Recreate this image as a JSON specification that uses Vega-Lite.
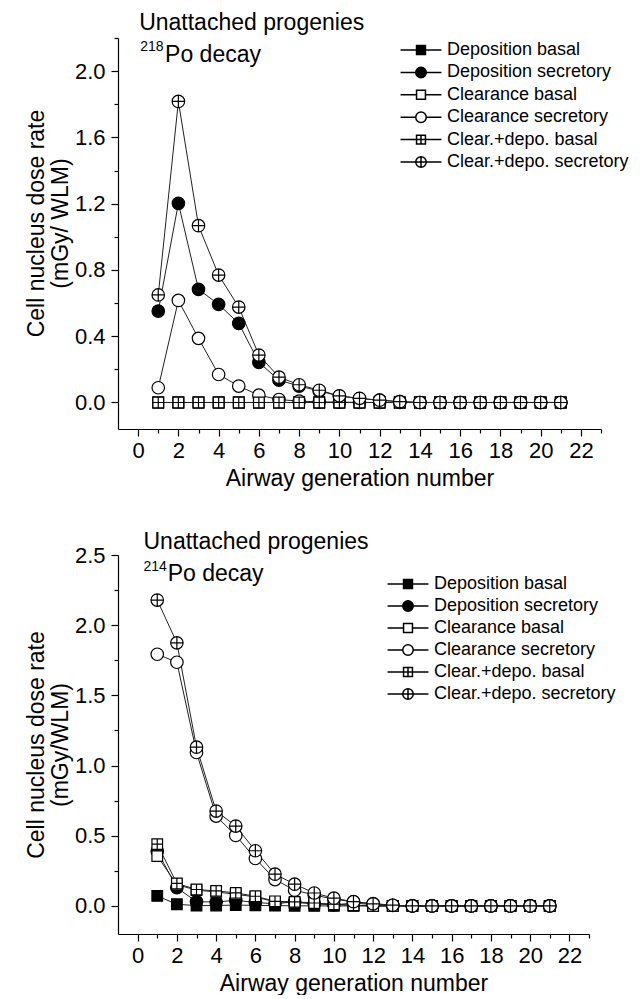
{
"$schema":"https://vega.github.io/schema/vega-lite/v6.json",
"padding":{"left":25,"top":12,"right":0,"bottom":0},
"background":"white",
"spacing":40,
"config":{"view":{"stroke":null},"font":"Liberation Sans",
"axis":{"domainColor":"black","domainWidth":1.2,"tickColor":"black","tickWidth":1.2,"labelColor":"black","titleColor":"black","labelFont":"Liberation Sans","titleFont":"Liberation Sans","labelFontSize":22,"titleFontSize":23,"titleFontWeight":"normal","grid":false,"tickSize":7}},
"datasets":{
"a":[
{"gen":1,"series":"Deposition basal","rate":0},{"gen":2,"series":"Deposition basal","rate":0},{"gen":3,"series":"Deposition basal","rate":0},{"gen":4,"series":"Deposition basal","rate":0},{"gen":5,"series":"Deposition basal","rate":0},{"gen":6,"series":"Deposition basal","rate":0},{"gen":7,"series":"Deposition basal","rate":0},{"gen":8,"series":"Deposition basal","rate":0},{"gen":9,"series":"Deposition basal","rate":0},{"gen":10,"series":"Deposition basal","rate":0},{"gen":11,"series":"Deposition basal","rate":0},{"gen":12,"series":"Deposition basal","rate":0},{"gen":13,"series":"Deposition basal","rate":0},{"gen":14,"series":"Deposition basal","rate":0},{"gen":15,"series":"Deposition basal","rate":0},{"gen":16,"series":"Deposition basal","rate":0},{"gen":17,"series":"Deposition basal","rate":0},{"gen":18,"series":"Deposition basal","rate":0},{"gen":19,"series":"Deposition basal","rate":0},{"gen":20,"series":"Deposition basal","rate":0},{"gen":21,"series":"Deposition basal","rate":0},
{"gen":1,"series":"Deposition secretory","rate":0.552},{"gen":2,"series":"Deposition secretory","rate":1.202},{"gen":3,"series":"Deposition secretory","rate":0.683},{"gen":4,"series":"Deposition secretory","rate":0.592},{"gen":5,"series":"Deposition secretory","rate":0.477},{"gen":6,"series":"Deposition secretory","rate":0.242},{"gen":7,"series":"Deposition secretory","rate":0.135},{"gen":8,"series":"Deposition secretory","rate":0.099},{"gen":9,"series":"Deposition secretory","rate":0.07},{"gen":10,"series":"Deposition secretory","rate":0.038},{"gen":11,"series":"Deposition secretory","rate":0.024},{"gen":12,"series":"Deposition secretory","rate":0.014},{"gen":13,"series":"Deposition secretory","rate":0.005},{"gen":14,"series":"Deposition secretory","rate":0},{"gen":15,"series":"Deposition secretory","rate":0},{"gen":16,"series":"Deposition secretory","rate":0},{"gen":17,"series":"Deposition secretory","rate":0},{"gen":18,"series":"Deposition secretory","rate":0},{"gen":19,"series":"Deposition secretory","rate":0},{"gen":20,"series":"Deposition secretory","rate":0},{"gen":21,"series":"Deposition secretory","rate":0},
{"gen":1,"series":"Clearance basal","rate":0},{"gen":2,"series":"Clearance basal","rate":0},{"gen":3,"series":"Clearance basal","rate":0},{"gen":4,"series":"Clearance basal","rate":0},{"gen":5,"series":"Clearance basal","rate":0},{"gen":6,"series":"Clearance basal","rate":0},{"gen":7,"series":"Clearance basal","rate":0},{"gen":8,"series":"Clearance basal","rate":0},{"gen":9,"series":"Clearance basal","rate":0},{"gen":10,"series":"Clearance basal","rate":0},{"gen":11,"series":"Clearance basal","rate":0},{"gen":12,"series":"Clearance basal","rate":0},{"gen":13,"series":"Clearance basal","rate":0},{"gen":14,"series":"Clearance basal","rate":0},{"gen":15,"series":"Clearance basal","rate":0},{"gen":16,"series":"Clearance basal","rate":0},{"gen":17,"series":"Clearance basal","rate":0},{"gen":18,"series":"Clearance basal","rate":0},{"gen":19,"series":"Clearance basal","rate":0},{"gen":20,"series":"Clearance basal","rate":0},{"gen":21,"series":"Clearance basal","rate":0},
{"gen":1,"series":"Clearance secretory","rate":0.089},{"gen":2,"series":"Clearance secretory","rate":0.616},{"gen":3,"series":"Clearance secretory","rate":0.387},{"gen":4,"series":"Clearance secretory","rate":0.169},{"gen":5,"series":"Clearance secretory","rate":0.099},{"gen":6,"series":"Clearance secretory","rate":0.044},{"gen":7,"series":"Clearance secretory","rate":0.018},{"gen":8,"series":"Clearance secretory","rate":0.008},{"gen":9,"series":"Clearance secretory","rate":0.004},{"gen":10,"series":"Clearance secretory","rate":0.002},{"gen":11,"series":"Clearance secretory","rate":0},{"gen":12,"series":"Clearance secretory","rate":0},{"gen":13,"series":"Clearance secretory","rate":0},{"gen":14,"series":"Clearance secretory","rate":0},{"gen":15,"series":"Clearance secretory","rate":0},{"gen":16,"series":"Clearance secretory","rate":0},{"gen":17,"series":"Clearance secretory","rate":0},{"gen":18,"series":"Clearance secretory","rate":0},{"gen":19,"series":"Clearance secretory","rate":0},{"gen":20,"series":"Clearance secretory","rate":0},{"gen":21,"series":"Clearance secretory","rate":0},
{"gen":1,"series":"Clear.+depo. basal","rate":0},{"gen":2,"series":"Clear.+depo. basal","rate":0},{"gen":3,"series":"Clear.+depo. basal","rate":0},{"gen":4,"series":"Clear.+depo. basal","rate":0},{"gen":5,"series":"Clear.+depo. basal","rate":0},{"gen":6,"series":"Clear.+depo. basal","rate":0},{"gen":7,"series":"Clear.+depo. basal","rate":0},{"gen":8,"series":"Clear.+depo. basal","rate":0},{"gen":9,"series":"Clear.+depo. basal","rate":0},{"gen":10,"series":"Clear.+depo. basal","rate":0},{"gen":11,"series":"Clear.+depo. basal","rate":0},{"gen":12,"series":"Clear.+depo. basal","rate":0},{"gen":13,"series":"Clear.+depo. basal","rate":0},{"gen":14,"series":"Clear.+depo. basal","rate":0},{"gen":15,"series":"Clear.+depo. basal","rate":0},{"gen":16,"series":"Clear.+depo. basal","rate":0},{"gen":17,"series":"Clear.+depo. basal","rate":0},{"gen":18,"series":"Clear.+depo. basal","rate":0},{"gen":19,"series":"Clear.+depo. basal","rate":0},{"gen":20,"series":"Clear.+depo. basal","rate":0},{"gen":21,"series":"Clear.+depo. basal","rate":0},
{"gen":1,"series":"Clear.+depo. secretory","rate":0.649},{"gen":2,"series":"Clear.+depo. secretory","rate":1.817},{"gen":3,"series":"Clear.+depo. secretory","rate":1.067},{"gen":4,"series":"Clear.+depo. secretory","rate":0.769},{"gen":5,"series":"Clear.+depo. secretory","rate":0.576},{"gen":6,"series":"Clear.+depo. secretory","rate":0.286},{"gen":7,"series":"Clear.+depo. secretory","rate":0.153},{"gen":8,"series":"Clear.+depo. secretory","rate":0.107},{"gen":9,"series":"Clear.+depo. secretory","rate":0.074},{"gen":10,"series":"Clear.+depo. secretory","rate":0.04},{"gen":11,"series":"Clear.+depo. secretory","rate":0.025},{"gen":12,"series":"Clear.+depo. secretory","rate":0.014},{"gen":13,"series":"Clear.+depo. secretory","rate":0.005},{"gen":14,"series":"Clear.+depo. secretory","rate":0},{"gen":15,"series":"Clear.+depo. secretory","rate":0},{"gen":16,"series":"Clear.+depo. secretory","rate":0},{"gen":17,"series":"Clear.+depo. secretory","rate":0},{"gen":18,"series":"Clear.+depo. secretory","rate":0},{"gen":19,"series":"Clear.+depo. secretory","rate":0},{"gen":20,"series":"Clear.+depo. secretory","rate":0},{"gen":21,"series":"Clear.+depo. secretory","rate":0}
],
"b":[
{"gen":1,"series":"Deposition basal","rate":0.071},{"gen":2,"series":"Deposition basal","rate":0.012},{"gen":3,"series":"Deposition basal","rate":0.002},{"gen":4,"series":"Deposition basal","rate":0.003},{"gen":5,"series":"Deposition basal","rate":0.006},{"gen":6,"series":"Deposition basal","rate":0.004},{"gen":7,"series":"Deposition basal","rate":0.002},{"gen":8,"series":"Deposition basal","rate":0.001},{"gen":9,"series":"Deposition basal","rate":0},{"gen":10,"series":"Deposition basal","rate":0},{"gen":11,"series":"Deposition basal","rate":0},{"gen":12,"series":"Deposition basal","rate":0},{"gen":13,"series":"Deposition basal","rate":0},{"gen":14,"series":"Deposition basal","rate":0},{"gen":15,"series":"Deposition basal","rate":0},{"gen":16,"series":"Deposition basal","rate":0},{"gen":17,"series":"Deposition basal","rate":0},{"gen":18,"series":"Deposition basal","rate":0},{"gen":19,"series":"Deposition basal","rate":0},{"gen":20,"series":"Deposition basal","rate":0},{"gen":21,"series":"Deposition basal","rate":0},
{"gen":1,"series":"Deposition secretory","rate":0.39},{"gen":2,"series":"Deposition secretory","rate":0.13},{"gen":3,"series":"Deposition secretory","rate":0.03},{"gen":4,"series":"Deposition secretory","rate":0.028},{"gen":5,"series":"Deposition secretory","rate":0.04},{"gen":6,"series":"Deposition secretory","rate":0.025},{"gen":7,"series":"Deposition secretory","rate":0.015},{"gen":8,"series":"Deposition secretory","rate":0.03},{"gen":9,"series":"Deposition secretory","rate":0.015},{"gen":10,"series":"Deposition secretory","rate":0.008},{"gen":11,"series":"Deposition secretory","rate":0.02},{"gen":12,"series":"Deposition secretory","rate":0.01},{"gen":13,"series":"Deposition secretory","rate":0.003},{"gen":14,"series":"Deposition secretory","rate":0},{"gen":15,"series":"Deposition secretory","rate":0},{"gen":16,"series":"Deposition secretory","rate":0},{"gen":17,"series":"Deposition secretory","rate":0},{"gen":18,"series":"Deposition secretory","rate":0},{"gen":19,"series":"Deposition secretory","rate":0},{"gen":20,"series":"Deposition secretory","rate":0},{"gen":21,"series":"Deposition secretory","rate":0},
{"gen":1,"series":"Clearance basal","rate":0.355},{"gen":2,"series":"Clearance basal","rate":0.152},{"gen":3,"series":"Clearance basal","rate":0.112},{"gen":4,"series":"Clearance basal","rate":0.1},{"gen":5,"series":"Clearance basal","rate":0.083},{"gen":6,"series":"Clearance basal","rate":0.064},{"gen":7,"series":"Clearance basal","rate":0.029},{"gen":8,"series":"Clearance basal","rate":0.024},{"gen":9,"series":"Clearance basal","rate":0.017},{"gen":10,"series":"Clearance basal","rate":0.01},{"gen":11,"series":"Clearance basal","rate":0.004},{"gen":12,"series":"Clearance basal","rate":0},{"gen":13,"series":"Clearance basal","rate":0},{"gen":14,"series":"Clearance basal","rate":0},{"gen":15,"series":"Clearance basal","rate":0},{"gen":16,"series":"Clearance basal","rate":0},{"gen":17,"series":"Clearance basal","rate":0},{"gen":18,"series":"Clearance basal","rate":0},{"gen":19,"series":"Clearance basal","rate":0},{"gen":20,"series":"Clearance basal","rate":0},{"gen":21,"series":"Clearance basal","rate":0},
{"gen":1,"series":"Clearance secretory","rate":1.793},{"gen":2,"series":"Clearance secretory","rate":1.736},{"gen":3,"series":"Clearance secretory","rate":1.093},{"gen":4,"series":"Clearance secretory","rate":0.64},{"gen":5,"series":"Clearance secretory","rate":0.502},{"gen":6,"series":"Clearance secretory","rate":0.338},{"gen":7,"series":"Clearance secretory","rate":0.188},{"gen":8,"series":"Clearance secretory","rate":0.112},{"gen":9,"series":"Clearance secretory","rate":0.078},{"gen":10,"series":"Clearance secretory","rate":0.048},{"gen":11,"series":"Clearance secretory","rate":0.029},{"gen":12,"series":"Clearance secretory","rate":0.017},{"gen":13,"series":"Clearance secretory","rate":0.005},{"gen":14,"series":"Clearance secretory","rate":0},{"gen":15,"series":"Clearance secretory","rate":0},{"gen":16,"series":"Clearance secretory","rate":0},{"gen":17,"series":"Clearance secretory","rate":0},{"gen":18,"series":"Clearance secretory","rate":0},{"gen":19,"series":"Clearance secretory","rate":0},{"gen":20,"series":"Clearance secretory","rate":0},{"gen":21,"series":"Clearance secretory","rate":0},
{"gen":1,"series":"Clear.+depo. basal","rate":0.44},{"gen":2,"series":"Clear.+depo. basal","rate":0.16},{"gen":3,"series":"Clear.+depo. basal","rate":0.117},{"gen":4,"series":"Clear.+depo. basal","rate":0.107},{"gen":5,"series":"Clear.+depo. basal","rate":0.093},{"gen":6,"series":"Clear.+depo. basal","rate":0.069},{"gen":7,"series":"Clear.+depo. basal","rate":0.033},{"gen":8,"series":"Clear.+depo. basal","rate":0.029},{"gen":9,"series":"Clear.+depo. basal","rate":0.021},{"gen":10,"series":"Clear.+depo. basal","rate":0.012},{"gen":11,"series":"Clear.+depo. basal","rate":0.005},{"gen":12,"series":"Clear.+depo. basal","rate":0},{"gen":13,"series":"Clear.+depo. basal","rate":0},{"gen":14,"series":"Clear.+depo. basal","rate":0},{"gen":15,"series":"Clear.+depo. basal","rate":0},{"gen":16,"series":"Clear.+depo. basal","rate":0},{"gen":17,"series":"Clear.+depo. basal","rate":0},{"gen":18,"series":"Clear.+depo. basal","rate":0},{"gen":19,"series":"Clear.+depo. basal","rate":0},{"gen":20,"series":"Clear.+depo. basal","rate":0},{"gen":21,"series":"Clear.+depo. basal","rate":0},
{"gen":1,"series":"Clear.+depo. secretory","rate":2.179},{"gen":2,"series":"Clear.+depo. secretory","rate":1.874},{"gen":3,"series":"Clear.+depo. secretory","rate":1.131},{"gen":4,"series":"Clear.+depo. secretory","rate":0.676},{"gen":5,"series":"Clear.+depo. secretory","rate":0.569},{"gen":6,"series":"Clear.+depo. secretory","rate":0.393},{"gen":7,"series":"Clear.+depo. secretory","rate":0.226},{"gen":8,"series":"Clear.+depo. secretory","rate":0.155},{"gen":9,"series":"Clear.+depo. secretory","rate":0.092},{"gen":10,"series":"Clear.+depo. secretory","rate":0.055},{"gen":11,"series":"Clear.+depo. secretory","rate":0.03},{"gen":12,"series":"Clear.+depo. secretory","rate":0.015},{"gen":13,"series":"Clear.+depo. secretory","rate":0.005},{"gen":14,"series":"Clear.+depo. secretory","rate":0},{"gen":15,"series":"Clear.+depo. secretory","rate":0},{"gen":16,"series":"Clear.+depo. secretory","rate":0},{"gen":17,"series":"Clear.+depo. secretory","rate":0},{"gen":18,"series":"Clear.+depo. secretory","rate":0},{"gen":19,"series":"Clear.+depo. secretory","rate":0},{"gen":20,"series":"Clear.+depo. secretory","rate":0},{"gen":21,"series":"Clear.+depo. secretory","rate":0}
]},
"vconcat":[
{"width":483,"height":391,"data":{"name":"a"},
"layer":[
{"mark":{"type":"line","color":"#222","strokeWidth":1},
"encoding":{"x":{"field":"gen","type":"quantitative","scale":{"domain":[-1,23],"nice":false,"zero":false},"axis":{"values":[0,2,4,6,8,10,12,14,16,18,20,22],"title":"Airway generation number","labelPadding":4,"titlePadding":6,"labelFlush":false}},
"y":{"field":"rate","type":"quantitative","scale":{"domain":[-0.16,2.2],"nice":false,"zero":false},"axis":{"values":[0,0.4,0.8,1.2,1.6,2.0],"format":".1f","title":["Cell nucleus dose rate","(mGy/ WLM)"],"titleLineHeight":24,"titlePadding":2,"titleY":185,"labelPadding":6,"labelFlush":false}},
"detail":{"field":"series"}}},
{"mark":{"type":"point","filled":true,"stroke":"black","strokeWidth":1.2,"size":156,"opacity":1},
"encoding":{"x":{"field":"gen","type":"quantitative","axis":null},"y":{"field":"rate","type":"quantitative","axis":null},
"shape":{"field":"series","type":"nominal","sort":null,"scale":{"domain":["Deposition basal","Deposition secretory","Clearance basal","Clearance secretory","Clear.+depo. basal","Clear.+depo. secretory"],"range":["M-0.85,-0.85L0.85,-0.85L0.85,0.85L-0.85,0.85Z","circle","M-0.85,-0.85L0.85,-0.85L0.85,0.85L-0.85,0.85Z","circle","M-0.85,-0.85L0.85,-0.85L0.85,0.85L-0.85,0.85ZM-0.85,0L0.85,0M0,-0.85L0,0.85","M-1,0A1,1,0,1,1,1,0A1,1,0,1,1,-1,0ZM-1,0L1,0M0,-1L0,1"]},"legend":null},
"fill":{"field":"series","type":"nominal","sort":null,"scale":{"domain":["Deposition basal","Deposition secretory","Clearance basal","Clearance secretory","Clear.+depo. basal","Clear.+depo. secretory"],"range":["black","black","white","white","white","white"]},"legend":null}}},
{"transform":[{"filter":"false"}],
"mark":{"type":"point","filled":true,"stroke":"black","strokeWidth":1.2,"opacity":1},
"encoding":{"x":{"field":"gen","type":"quantitative","axis":{"values":[1,3,5,7,9,11,13,15,17,19,21,23],"labels":false,"domain":false,"tickSize":4,"title":null,"orient":"bottom"}},
"y":{"field":"rate","type":"quantitative","axis":{"values":[0.2,0.6,1.0,1.4,1.8,2.2],"labels":false,"domain":false,"tickSize":4,"title":null,"orient":"left"}},
"shape":{"field":"series","type":"nominal","sort":null,"scale":{"domain":["Deposition basal","Deposition secretory","Clearance basal","Clearance secretory","Clear.+depo. basal","Clear.+depo. secretory"],"range":["M-3.9,0L-0.85,0M0.85,0L3.9,0M-0.85,-0.85L0.85,-0.85L0.85,0.85L-0.85,0.85Z","M-3.9,0L-1,0M1,0L3.9,0M-1,0A1,1,0,1,1,1,0A1,1,0,1,1,-1,0Z","M-3.9,0L-0.85,0M0.85,0L3.9,0M-0.85,-0.85L0.85,-0.85L0.85,0.85L-0.85,0.85Z","M-3.9,0L-1,0M1,0L3.9,0M-1,0A1,1,0,1,1,1,0A1,1,0,1,1,-1,0Z","M-3.9,0L-0.85,0M0.85,0L3.9,0M-0.85,-0.85L0.85,-0.85L0.85,0.85L-0.85,0.85ZM-0.85,0L0.85,0M0,-0.85L0,0.85","M-3.9,0L-1,0M1,0L3.9,0M-1,0A1,1,0,1,1,1,0A1,1,0,1,1,-1,0ZM-1,0L1,0M0,-1L0,1"]},
"legend":{"orient":"none","legendX":294,"legendY":3,"title":null,"labelFontSize":18,"labelFont":"Liberation Sans","labelColor":"black","labelLimit":400,"symbolSize":110,"labelOffset":17,"rowPadding":4.4,"padding":0,"encode":{"symbols":{"update":{"stroke":{"value":"black"},"strokeWidth":{"value":1.2},"opacity":{"value":1}}}}}},
"fill":{"field":"series","type":"nominal","sort":null,"scale":{"domain":["Deposition basal","Deposition secretory","Clearance basal","Clearance secretory","Clear.+depo. basal","Clear.+depo. secretory"],"range":["black","black","white","white","white","white"]},
"legend":{"orient":"none","legendX":294,"legendY":3,"title":null,"labelFontSize":18,"labelFont":"Liberation Sans","labelColor":"black","labelLimit":400,"symbolSize":110,"labelOffset":17,"rowPadding":4.4,"padding":0,"encode":{"symbols":{"update":{"stroke":{"value":"black"},"strokeWidth":{"value":1.2},"opacity":{"value":1}}}}}}}},
{"data":{"values":[{"t":"Unattached progenies"}]},"mark":{"type":"text","align":"left","baseline":"alphabetic","fontSize":23,"font":"Liberation Sans","color":"black"},
"encoding":{"x":{"datum":0.05,"type":"quantitative","axis":null},"y":{"datum":2.248,"type":"quantitative","axis":null},"text":{"field":"t"}}},
{"data":{"values":[{"t":"218"}]},"mark":{"type":"text","align":"left","baseline":"alphabetic","fontSize":14,"font":"Liberation Sans","color":"black"},
"encoding":{"x":{"datum":0.1,"type":"quantitative","axis":null},"y":{"datum":2.121,"type":"quantitative","axis":null},"text":{"field":"t"}}},
{"data":{"values":[{"t":"Po decay"}]},"mark":{"type":"text","align":"left","baseline":"alphabetic","fontSize":23,"font":"Liberation Sans","color":"black"},
"encoding":{"x":{"datum":1.34,"type":"quantitative","axis":null},"y":{"datum":2.054,"type":"quantitative","axis":null},"text":{"field":"t"}}}
],
"resolve":{"scale":{"shape":"independent","fill":"independent"},"axis":{"x":"independent","y":"independent"}}},
{"width":471,"height":379,"data":{"name":"b"},
"layer":[
{"mark":{"type":"line","color":"#222","strokeWidth":1},
"encoding":{"x":{"field":"gen","type":"quantitative","scale":{"domain":[-1,23],"nice":false,"zero":false},"axis":{"values":[0,2,4,6,8,10,12,14,16,18,20,22],"title":"Airway generation number","labelPadding":4,"titlePadding":6,"labelFlush":false}},
"y":{"field":"rate","type":"quantitative","scale":{"domain":[-0.2,2.5],"nice":false,"zero":false},"axis":{"values":[0,0.5,1.0,1.5,2.0,2.5],"format":".1f","title":["Cell nucleus dose rate","(mGy/WLM)"],"titleLineHeight":24,"titlePadding":2,"labelPadding":6,"labelFlush":false}},
"detail":{"field":"series"}}},
{"mark":{"type":"point","filled":true,"stroke":"black","strokeWidth":1.2,"size":156,"opacity":1},
"encoding":{"x":{"field":"gen","type":"quantitative","axis":null},"y":{"field":"rate","type":"quantitative","axis":null},
"shape":{"field":"series","type":"nominal","sort":null,"scale":{"domain":["Deposition basal","Deposition secretory","Clearance basal","Clearance secretory","Clear.+depo. basal","Clear.+depo. secretory"],"range":["M-0.85,-0.85L0.85,-0.85L0.85,0.85L-0.85,0.85Z","circle","M-0.85,-0.85L0.85,-0.85L0.85,0.85L-0.85,0.85Z","circle","M-0.85,-0.85L0.85,-0.85L0.85,0.85L-0.85,0.85ZM-0.85,0L0.85,0M0,-0.85L0,0.85","M-1,0A1,1,0,1,1,1,0A1,1,0,1,1,-1,0ZM-1,0L1,0M0,-1L0,1"]},"legend":null},
"fill":{"field":"series","type":"nominal","sort":null,"scale":{"domain":["Deposition basal","Deposition secretory","Clearance basal","Clearance secretory","Clear.+depo. basal","Clear.+depo. secretory"],"range":["black","black","white","white","white","white"]},"legend":null}}},
{"transform":[{"filter":"false"}],
"mark":{"type":"point","filled":true,"stroke":"black","strokeWidth":1.2,"opacity":1},
"encoding":{"x":{"field":"gen","type":"quantitative","axis":{"values":[1,3,5,7,9,11,13,15,17,19,21,23],"labels":false,"domain":false,"tickSize":4,"title":null,"orient":"bottom"}},
"y":{"field":"rate","type":"quantitative","axis":{"values":[0.25,0.75,1.25,1.75,2.25],"labels":false,"domain":false,"tickSize":4,"title":null,"orient":"left"}},
"shape":{"field":"series","type":"nominal","sort":null,"scale":{"domain":["Deposition basal","Deposition secretory","Clearance basal","Clearance secretory","Clear.+depo. basal","Clear.+depo. secretory"],"range":["M-3.9,0L-0.85,0M0.85,0L3.9,0M-0.85,-0.85L0.85,-0.85L0.85,0.85L-0.85,0.85Z","M-3.9,0L-1,0M1,0L3.9,0M-1,0A1,1,0,1,1,1,0A1,1,0,1,1,-1,0Z","M-3.9,0L-0.85,0M0.85,0L3.9,0M-0.85,-0.85L0.85,-0.85L0.85,0.85L-0.85,0.85Z","M-3.9,0L-1,0M1,0L3.9,0M-1,0A1,1,0,1,1,1,0A1,1,0,1,1,-1,0Z","M-3.9,0L-0.85,0M0.85,0L3.9,0M-0.85,-0.85L0.85,-0.85L0.85,0.85L-0.85,0.85ZM-0.85,0L0.85,0M0,-0.85L0,0.85","M-3.9,0L-1,0M1,0L3.9,0M-1,0A1,1,0,1,1,1,0A1,1,0,1,1,-1,0ZM-1,0L1,0M0,-1L0,1"]},
"legend":{"orient":"none","legendX":281,"legendY":20,"title":null,"labelFontSize":18,"labelFont":"Liberation Sans","labelColor":"black","labelLimit":400,"symbolSize":110,"labelOffset":17,"rowPadding":4,"padding":0,"encode":{"symbols":{"update":{"stroke":{"value":"black"},"strokeWidth":{"value":1.2},"opacity":{"value":1}}}}}},
"fill":{"field":"series","type":"nominal","sort":null,"scale":{"domain":["Deposition basal","Deposition secretory","Clearance basal","Clearance secretory","Clear.+depo. basal","Clear.+depo. secretory"],"range":["black","black","white","white","white","white"]},
"legend":{"orient":"none","legendX":281,"legendY":20,"title":null,"labelFontSize":18,"labelFont":"Liberation Sans","labelColor":"black","labelLimit":400,"symbolSize":110,"labelOffset":17,"rowPadding":4,"padding":0,"encode":{"symbols":{"update":{"stroke":{"value":"black"},"strokeWidth":{"value":1.2},"opacity":{"value":1}}}}}}}},
{"data":{"values":[{"t":"Unattached progenies"}]},"mark":{"type":"text","align":"left","baseline":"alphabetic","fontSize":23,"font":"Liberation Sans","color":"black"},
"encoding":{"x":{"datum":0.3,"type":"quantitative","axis":null},"y":{"datum":2.543,"type":"quantitative","axis":null},"text":{"field":"t"}}},
{"data":{"values":[{"t":"214"}]},"mark":{"type":"text","align":"left","baseline":"alphabetic","fontSize":14,"font":"Liberation Sans","color":"black"},
"encoding":{"x":{"datum":0.3,"type":"quantitative","axis":null},"y":{"datum":2.386,"type":"quantitative","axis":null},"text":{"field":"t"}}},
{"data":{"values":[{"t":"Po decay"}]},"mark":{"type":"text","align":"left","baseline":"alphabetic","fontSize":23,"font":"Liberation Sans","color":"black"},
"encoding":{"x":{"datum":1.53,"type":"quantitative","axis":null},"y":{"datum":2.314,"type":"quantitative","axis":null},"text":{"field":"t"}}}
],
"resolve":{"scale":{"shape":"independent","fill":"independent"},"axis":{"x":"independent","y":"independent"}}}
]
}
